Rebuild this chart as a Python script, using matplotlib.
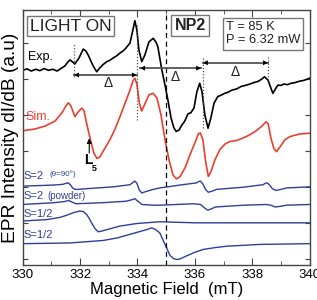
import matplotlib
matplotlib.use("Agg")
import matplotlib.pyplot as plt
from matplotlib.ticker import MultipleLocator

plt.rcParams['font.family'] = ['Liberation Sans', 'DejaVu Sans']

# ---- data (field in mT, intensity in a.u. with vertical offsets) ----
exp_x = [330.0, 330.15, 330.3, 330.45, 330.6, 330.75, 330.9, 331.05, 331.2, 331.35,
         331.47, 331.56, 331.65, 331.74, 331.82, 331.96, 332.11, 332.2, 332.28, 332.41,
         332.5, 332.58, 332.69, 332.8, 332.93, 333.04, 333.15, 333.27, 333.39, 333.5,
         333.6, 333.74, 333.84, 333.91, 333.98, 334.05, 334.15, 334.26, 334.4, 334.55,
         334.64, 334.71, 334.85, 334.96, 335.06, 335.17, 335.27, 335.35, 335.45, 335.55,
         335.65, 335.76, 335.86, 335.97, 336.07, 336.17, 336.25, 336.35, 336.46, 336.56,
         336.67, 336.8, 336.92, 337.04, 337.16, 337.29, 337.45, 337.61, 337.76, 337.92,
         338.06, 338.2, 338.34, 338.43, 338.55, 338.65, 338.72, 338.83, 338.9, 339.0,
         339.11, 339.23, 339.35, 339.5, 339.66, 339.8, 339.9, 340.0]
exp_y = [5.24, 5.28, 5.22, 5.27, 5.23, 5.29, 5.24, 5.27, 5.22, 5.30,
         5.36, 5.46, 5.53, 5.47, 5.42, 5.58, 5.83, 5.78, 5.67, 5.44,
         5.30, 5.20, 5.31, 5.40, 5.48, 5.52, 5.58, 5.64, 5.72, 5.78,
         5.86, 6.00, 6.36, 6.62, 6.36, 5.81, 5.48, 5.67, 6.03, 6.13,
         6.03, 5.90, 5.25, 4.83, 4.42, 3.92, 3.64, 3.54, 3.58, 3.72,
         3.83, 4.03, 4.06, 4.19, 4.64, 4.88, 4.64, 4.00, 3.63, 3.92,
         4.33, 4.51, 4.55, 4.60, 4.63, 4.69, 4.72, 4.79, 4.82, 4.86,
         4.90, 4.93, 5.00, 5.06, 4.97, 4.75, 4.60, 4.75, 4.83, 4.82,
         4.86, 4.84, 4.88, 4.90, 4.94, 4.96, 4.99, 5.02]

sim_x = [330.0, 330.43, 330.78, 331.13, 331.37, 331.51, 331.59, 331.68, 331.82, 331.93,
         332.06, 332.14, 332.24, 332.38, 332.48, 332.59, 332.69, 332.87, 333.04, 333.22,
         333.39, 333.56, 333.74, 333.84, 333.91, 333.98, 334.07, 334.15, 334.26, 334.4,
         334.55, 334.68, 334.82, 334.96, 335.1, 335.24, 335.36, 335.48, 335.66, 335.83,
         336.0, 336.12, 336.19, 336.28, 336.38, 336.47, 336.56, 336.7, 336.87, 337.05,
         337.22, 337.47, 337.8, 338.09, 338.34, 338.48, 338.56, 338.65, 338.76, 338.85,
         338.97, 339.14, 339.32, 339.66, 340.0]
sim_y = [3.56, 3.61, 3.69, 3.83, 4.06, 4.25, 4.34, 4.25, 3.95, 4.08,
         4.19, 4.11, 3.72, 3.25, 2.94, 2.79, 2.83, 3.08, 3.31, 3.61,
         3.95, 4.31, 4.69, 4.94, 5.02, 4.86, 4.31, 4.11, 4.31, 4.56,
         4.60, 4.47, 4.00, 3.31, 2.75, 2.33, 2.22, 2.28, 2.53, 2.89,
         3.22, 3.47, 3.50, 3.31, 2.69, 2.29, 2.42, 2.75, 3.03, 3.19,
         3.26, 3.29, 3.40, 3.53, 3.69, 3.81, 3.75, 3.36, 3.06, 2.98,
         3.11, 3.31, 3.40, 3.47, 3.49]

s2a_x = [330.0, 331.07, 331.4, 331.52, 331.59, 331.66, 331.74, 331.82, 331.95, 332.23,
         333.16, 333.74, 333.84, 333.91, 333.98, 334.06, 334.15, 334.3, 334.55, 334.78,
         335.48, 336.06, 336.14, 336.2, 336.28, 336.38, 336.47, 336.6, 336.76, 337.69,
         338.38, 338.46, 338.52, 338.6, 338.7, 338.83, 339.0, 339.2, 340.0]
s2a_y = [2.02, 2.05, 2.07, 2.10, 2.11, 2.06, 1.97, 1.93, 1.93, 1.95,
         2.00, 2.06, 2.12, 2.16, 2.10, 1.92, 1.83, 1.87, 1.93, 1.97,
         2.05, 2.11, 2.15, 2.16, 2.08, 1.92, 1.85, 1.88, 1.93, 1.99,
         2.06, 2.10, 2.11, 2.06, 1.95, 1.90, 1.93, 1.97, 2.00]

s2p_x = [330.0, 331.1, 331.45, 331.6, 331.85, 332.8, 333.6, 333.8, 333.91, 334.02,
         334.15, 334.55, 334.78, 335.95, 336.2, 336.33, 336.45, 336.58, 336.72, 337.7,
         338.5, 338.65, 338.8, 339.0, 339.2, 340.0]
s2p_y = [1.51, 1.56, 1.59, 1.62, 1.53, 1.56, 1.60, 1.64, 1.67, 1.60,
         1.51, 1.49, 1.49, 1.53, 1.51, 1.42, 1.35, 1.39, 1.44, 1.49,
         1.51, 1.49, 1.44, 1.46, 1.49, 1.51]

s12a_x = [330.0, 330.84, 331.3, 331.53, 331.8, 332.0, 332.12, 332.23, 332.32, 332.4,
          332.52, 332.63, 332.75, 332.93, 333.39, 333.97, 334.78, 336.0, 338.0, 340.0]
s12a_y = [1.05, 1.09, 1.15, 1.21, 1.29, 1.33, 1.31, 1.23, 1.12, 1.00,
          0.84, 0.75, 0.77, 0.81, 0.91, 0.98, 1.03, 1.00, 1.00, 1.00]

s12b_x = [330.0, 331.65, 332.81, 333.3, 333.74, 334.05, 334.32, 334.49, 334.62, 334.78,
          334.96, 335.13, 335.25, 335.37, 335.5, 335.71, 336.0, 336.29, 336.7, 337.11,
          338.27, 340.0]
s12b_y = [0.42, 0.44, 0.51, 0.58, 0.68, 0.75, 0.81, 0.86, 0.82, 0.72,
          0.40, 0.10, 0.01, -0.02, 0.00, 0.08, 0.18, 0.26, 0.31, 0.35,
          0.40, 0.42]

dotted_x = [331.79, 334.0, 336.28, 338.55]
dotted_ylo = [5.06, 3.86, 3.64, 4.97]
dotted_yhi = [6.00, 6.56, 5.58, 5.61]

delta_x0 = [331.79, 334.09, 336.28]
delta_x1 = [333.98, 336.22, 338.55]
delta_y = [5.11, 5.30, 5.45]
delta_lab_x = [332.97, 335.30, 337.39]
delta_lab_y = [4.89, 5.06, 5.20]

RED = '#e8402f'
BLUE = '#2f3f9a'
GRAY = '#555555'

fig = plt.figure(figsize=(3.17, 3.0), dpi=100)
ax = fig.add_axes([0.0716, 0.117, 0.905, 0.85])

ax.plot(exp_x, exp_y, color='black', lw=1.2)
ax.plot(sim_x, sim_y, color=RED, lw=1.2)
for xs, ys in [(s2a_x, s2a_y), (s2p_x, s2p_y), (s12a_x, s12a_y), (s12b_x, s12b_y)]:
    ax.plot(xs, ys, color=BLUE, lw=1.0)

ax.axvline(335.0, color='black', lw=0.9, ls=(0, (4, 3)))
for x, lo, hi in zip(dotted_x, dotted_ylo, dotted_yhi):
    ax.plot([x, x], [lo, hi], color=GRAY, lw=0.9, ls=(0, (1, 1.5)))

for x0, x1, y, lx, ly in zip(delta_x0, delta_x1, delta_y, delta_lab_x, delta_lab_y):
    ax.plot([x0, x1], [y, y], color=GRAY, lw=1.3)
    ax.annotate('', xy=(x1, y), xytext=(x0, y),
                arrowprops=dict(arrowstyle='<|-|>', color='black', lw=0,
                                mutation_scale=9, shrinkA=0, shrinkB=0))
    ax.text(lx, ly, 'Δ', ha='center', va='center', fontsize=10, color='#222222')

# L5 arrow
ax.annotate('', xy=(332.32, 3.35), xytext=(332.32, 2.94),
            arrowprops=dict(arrowstyle='-|>', color='black', lw=0.8,
                            mutation_scale=7, shrinkA=0, shrinkB=0))
ax.text(332.28, 2.74, 'L', ha='center', va='center', fontsize=10, fontweight='bold')
ax.text(332.50, 2.50, '5', ha='center', va='center', fontsize=6.5, fontweight='bold')

ax.text(331.68, 6.47, 'LIGHT ON', ha='center', va='center', fontsize=12.5, color='#222222',
        bbox=dict(boxstyle='square,pad=0.15', fc='white', ec='#777777', lw=1.0))
ax.text(335.84, 6.49, 'NP2', ha='center', va='center', fontsize=11.5, fontweight='bold',
        color='#222222', bbox=dict(boxstyle='square,pad=0.2', fc='white', ec='#777777', lw=1.0))
ax.text(337.08, 6.26, 'T = 85 K\nP = 6.32 mW', ha='left', va='center', fontsize=9.3,
        color='#222222', linespacing=1.15,
        bbox=dict(boxstyle='square,pad=0.25', fc='white', ec='#777777', lw=1.0))

ax.text(330.18, 5.61, 'Exp.', ha='left', va='center', fontsize=9)
ax.text(330.08, 3.94, 'Sim.', ha='left', va='center', fontsize=9, color=RED)
ax.text(330.02, 2.30, 'S=2', ha='left', va='center', fontsize=8, color=BLUE)
ax.text(330.95, 2.34, '(θ=90°)', ha='left', va='center', fontsize=5.8, color=BLUE)
ax.text(330.02, 1.74, 'S=2', ha='left', va='center', fontsize=8, color=BLUE)
ax.text(330.85, 1.74, '(powder)', ha='left', va='center', fontsize=7, color=BLUE)
ax.text(330.02, 1.25, 'S=1/2', ha='left', va='center', fontsize=8, color=BLUE)
ax.text(330.02, 0.65, 'S=1/2', ha='left', va='center', fontsize=8, color=BLUE)

ax.set_xlim(330, 340)
ax.set_ylim(-0.17, 6.92)
ax.set_xticks([330, 332, 334, 336, 338, 340])
ax.xaxis.set_minor_locator(MultipleLocator(1))
ax.set_yticks(range(0, 7))
ax.set_yticklabels([])
ax.tick_params(axis='both', which='both', direction='in', top=True, right=True,
               color='#444444')
ax.tick_params(axis='x', which='major', length=5, labelsize=9.5, pad=3)
ax.tick_params(axis='x', which='minor', length=3)
ax.tick_params(axis='y', which='major', length=3.5)
for s in ax.spines.values():
    s.set_color('#444444')
    s.set_linewidth(1.0)

ax.set_xlabel('Magnetic Field  (mT)', fontsize=12, labelpad=1)
ax.set_ylabel('EPR Intensity dI/dB (a.u)', fontsize=13.8)
ax.yaxis.set_label_coords(-0.012, 0.5)

fig.savefig('out.png', dpi=100)
